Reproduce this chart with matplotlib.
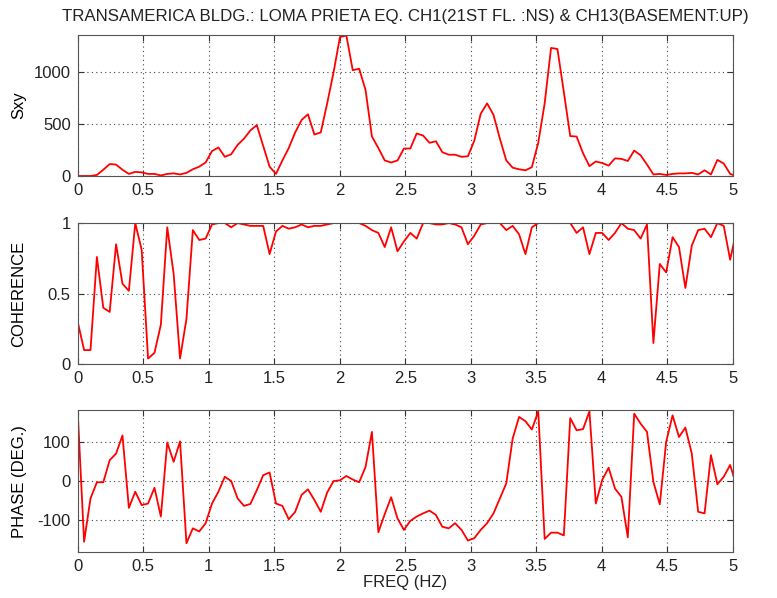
import numpy as np
import matplotlib
matplotlib.use("Agg")
import matplotlib.pyplot as plt

plt.rcParams['font.family'] = ['Liberation Sans', 'DejaVu Sans']

df = 50.0 / 1024.0
sxy = [0, 0, 0, 10, 60, 115, 110, 60, 20, 40,
       35, 20, 20, 5, 20, 25, 15, 30, 65, 90,
       130, 240, 275, 185, 210, 300, 360, 440, 490, 290,
       90, 20, 150, 270, 420, 540, 595, 400, 420, 700,
       1000, 1340, 1355, 1020, 1035, 830, 380, 270, 150, 130,
       150, 265, 265, 410, 390, 320, 335, 230, 205, 205,
       185, 190, 340, 600, 700, 590, 360, 150, 80, 65,
       55, 85, 320, 700, 1235, 1225, 810, 385, 380, 220,
       95, 140, 125, 100, 170, 165, 145, 245, 200, 110,
       15, 20, 10, 20, 25, 25, 30, 15, 55, 15,
       155, 120, 20, 0]
coherence = [0.30, 0.10, 0.10, 0.76, 0.40, 0.37, 0.85, 0.57, 0.52, 1.00,
             0.81, 0.04, 0.08, 0.28, 0.97, 0.64, 0.04, 0.32, 0.95, 0.88,
             0.89, 0.99, 1.00, 1.00, 0.97, 1.00, 0.99, 0.98, 0.98, 0.98,
             0.78, 0.94, 0.98, 0.96, 0.97, 0.99, 0.97, 0.98, 0.98, 0.99,
             1.00, 1.00, 1.00, 1.00, 1.00, 0.98, 0.95, 0.93, 0.83, 0.97,
             0.80, 0.87, 0.93, 0.89, 1.00, 1.00, 0.99, 0.99, 1.00, 0.99,
             0.97, 0.85, 0.91, 0.99, 1.00, 1.00, 1.00, 0.95, 0.98, 0.92,
             0.78, 0.97, 1.00, 1.00, 1.00, 1.00, 1.00, 1.00, 0.93, 0.97,
             0.78, 0.93, 0.93, 0.88, 0.93, 1.00, 0.96, 0.95, 0.89, 0.99,
             0.15, 0.71, 0.65, 0.90, 0.83, 0.54, 0.84, 0.95, 0.96, 0.90,
             1.00, 0.98, 0.74, 0.95]
phase = [177, -154, -44, -3, -3, 53, 70, 116, -68, -27,
         -61, -57, -17, -90, 98, 49, 101, -158, -120, -128,
         -107, -57, -27, 11, 0, -44, -63, -58, -23, 15,
         22, -57, -63, -97, -78, -35, -21, -48, -78, -29,
         0, 2, 13, 4, -3, 36, 125, -130, -84, -41,
         -95, -124, -101, -90, -82, -75, -86, -116, -120, -107,
         -124, -151, -145, -124, -107, -82, -44, -6, 108, 163,
         152, 131, 177, -147, -131, -131, -138, 160, 129, 132,
         177, -57, 3, 34, -19, -40, -143, 171, 146, 125,
         -2, -59, 100, 167, 112, 136, 70, -78, -82, 66,
         -8, 11, 41, -12]

freq = np.arange(len(sxy)) * df

title = "TRANSAMERICA BLDG.: LOMA PRIETA EQ. CH1(21ST FL. :NS) & CH13(BASEMENT:UP)"
xticks = [0, 0.5, 1, 1.5, 2, 2.5, 3, 3.5, 4, 4.5, 5]
xticklabels = ['0', '0.5', '1', '1.5', '2', '2.5', '3', '3.5', '4', '4.5', '5']

fig = plt.figure(figsize=(7.77, 5.98), dpi=100)
L, W = 0.100, 0.843
boxes = [(0.7057, 0.2358), (0.391, 0.236), (0.077, 0.237)]
panels = [
    (sxy, 'Sxy', (0, 1360), [0, 500, 1000], ['0', '500', '1000']),
    (coherence, 'COHERENCE', (0, 1), [0, 0.5, 1], ['0', '0.5', '1']),
    (phase, 'PHASE (DEG.)', (-180, 180), [-100, 0, 100], ['-100', '0', '100']),
]
axes = []
for (b, h), (vals, lab, yl, yt, ytl) in zip(boxes, panels):
    ax = fig.add_axes([L, b, W, h])
    ax.plot(freq, vals, color='#ff0000', lw=1.3, clip_on=True)
    ax.set_xlim(0, 5)
    ax.set_ylim(*yl)
    ax.set_xticks(xticks)
    ax.set_xticklabels(xticklabels)
    ax.set_yticks(yt)
    ax.set_yticklabels(ytl)
    ax.set_ylabel(lab, fontsize=12)
    ax.grid(True, linestyle=(0, (1, 3)), color='#444444', lw=0.8)
    ax.tick_params(direction='in', top=True, right=True, labelsize=12,
                   length=4, pad=5, colors='#333333', labelcolor='#222222')
    for s in ax.spines.values():
        s.set_color('#555555')
        s.set_linewidth(0.8)
    axes.append(ax)

axes[0].set_title(title, fontsize=12.2, pad=10, color='#222222')
axes[2].set_xlabel('FREQ (HZ)', fontsize=12, labelpad=1, color='#222222')
for ax in axes:
    ax.yaxis.set_label_coords(-0.078, 0.5)

fig.savefig('out.png', dpi=100)
